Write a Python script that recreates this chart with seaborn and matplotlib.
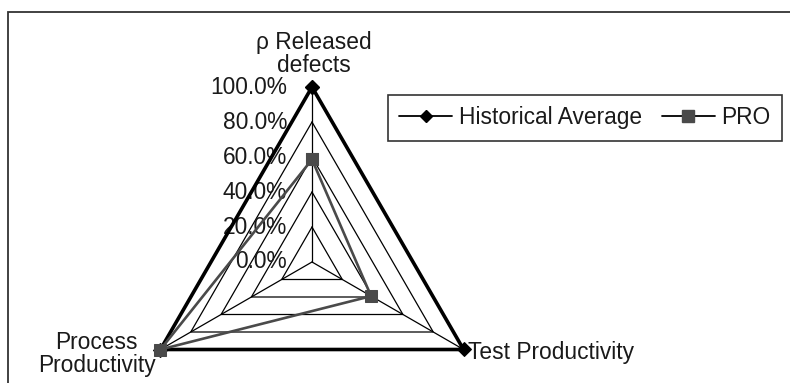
import numpy as np
import pandas as pd
import matplotlib
matplotlib.use("Agg")
import matplotlib.pyplot as plt
from matplotlib.lines import Line2D
from matplotlib.patches import Rectangle
import seaborn as sns

# Radar categories, clockwise from the top
categories = ["ρ Released\ndefects", "Test Productivity", "Process\nProductivity"]
historical_average = [1.00, 1.00, 1.00]
pro = [0.586, 0.39, 1.00]
ring_values = [0.0, 0.2, 0.4, 0.6, 0.8, 1.0]
ring_labels = ["0.0%", "20.0%", "40.0%", "60.0%", "80.0%", "100.0%"]

sns.set_style("white")
plt.rcParams["font.family"] = ["Liberation Sans", "DejaVu Sans"]
FS = 16.4

W, H, DPI = 790, 383, 100
fig = plt.figure(figsize=(W / DPI, H / DPI), dpi=DPI)
fig.patch.set_facecolor("white")

# chart frame (runs past the right and bottom edges)
fig.patches.append(Rectangle((8 / W, -0.2), 2.0, 1 - 12 / H + 0.2,
                             transform=fig.transFigure, fill=False,
                             edgecolor="#333333", linewidth=1.3))

# polar axes centred on the radar, radius = 100 %
cx, cy, R = 312, 262, 175
ax = fig.add_axes([(cx - R) / W, (H - cy - R) / H, 2 * R / W, 2 * R / H],
                  projection="polar")
ax.set_theta_zero_location("N")
ax.set_theta_direction(-1)
ax.set_ylim(0, 1)
ax.grid(False)
ax.set_xticks([])
ax.set_yticks([])
ax.spines["polar"].set_visible(False)
ax.patch.set_visible(False)

n = len(categories)
theta = np.arange(n) * 2 * np.pi / n
theta_closed = np.append(theta, theta[0])

# triangular gridlines and spokes
for v in ring_values[1:]:
    ax.plot(theta_closed, [v] * (n + 1), color="black", lw=0.9, clip_on=False, zorder=1)
for t in theta:
    ax.plot([t, t], [0, 1], color="black", lw=0.9, clip_on=False, zorder=1)

# ring value labels along the top spoke
for v, lab in zip(ring_values, ring_labels):
    ax.annotate(lab, xy=(0, v), xytext=(-18, 0), textcoords="offset points",
                ha="right", va="center", fontsize=FS, color="#1a1a1a",
                annotation_clip=False)

def closed(values):
    return pd.DataFrame({"theta": theta_closed,
                         "value": list(values) + [values[0]]})

sns.lineplot(data=closed(historical_average), x="theta", y="value", sort=False,
             estimator=None, ax=ax, color="black", lw=2.6, marker="D", markersize=7,
             markeredgecolor="black", clip_on=False, zorder=3, legend=False)
sns.lineplot(data=closed(pro), x="theta", y="value", sort=False,
             estimator=None, ax=ax, color="#4a4a4a", lw=1.9, marker="s", markersize=9,
             markeredgecolor="#4a4a4a", clip_on=False, zorder=4, legend=False)
ax.set_xlabel("")
ax.set_ylabel("")
ax.set_ylim(0, 1)

# category labels at the spoke ends
ax.annotate(categories[0], xy=(theta[0], 1), xytext=(1, 24), textcoords="offset points",
            ha="center", va="center", fontsize=FS, linespacing=1.0,
            color="#1a1a1a", annotation_clip=False)
ax.annotate(categories[1], xy=(theta[1], 1), xytext=(3, -2.5), textcoords="offset points",
            ha="left", va="center", fontsize=FS, color="#1a1a1a", annotation_clip=False)
ax.annotate(categories[2], xy=(theta[2], 1), xytext=(-46, -3), textcoords="offset points",
            ha="center", va="center", fontsize=FS, linespacing=1.0,
            color="#1a1a1a", annotation_clip=False)

handles = [
    Line2D([], [], color="black", lw=1.3, marker="D", markersize=6),
    Line2D([], [], color="black", lw=1.3, marker="s", markersize=8,
           markerfacecolor="#4a4a4a", markeredgecolor="#4a4a4a"),
]
leg = fig.legend(handles, ["Historical Average", "PRO"], ncol=2,
                 loc="upper left", bbox_to_anchor=(388 / W, 1 - 95 / H),
                 frameon=True, fancybox=False, fontsize=FS,
                 handlelength=2.3, handletextpad=0.3, columnspacing=0.9,
                 borderpad=0.5, borderaxespad=0)
leg.get_frame().set_edgecolor("black")
leg.get_frame().set_linewidth(1.2)
for t in leg.get_texts():
    t.set_color("#1a1a1a")

fig.savefig("out.png", dpi=DPI, facecolor="white")
